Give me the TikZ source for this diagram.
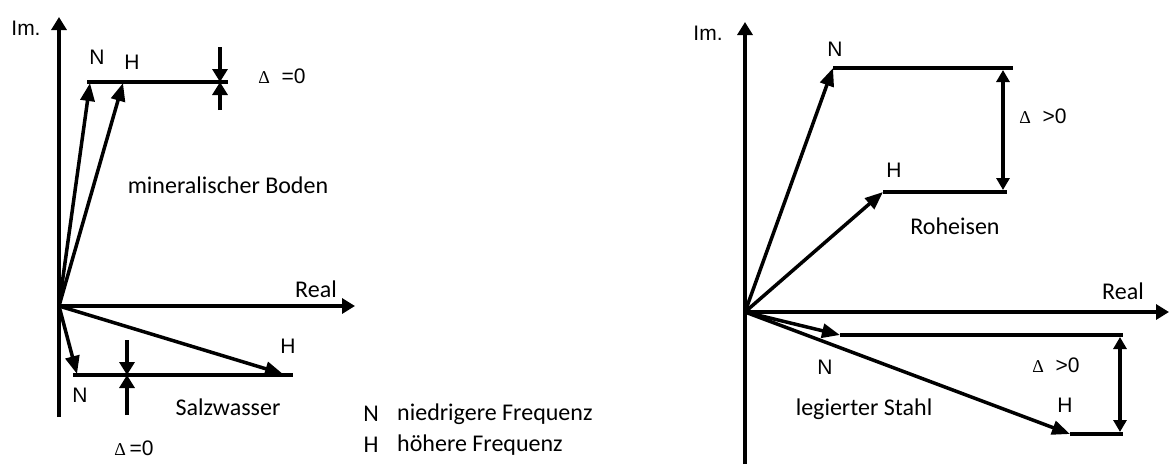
\documentclass[tikz,border=0pt]{standalone}
\usepackage{fontspec}
\setmainfont{Liberation Sans}
\newfontfamily\notefont{Carlito}
\newfontfamily\deltafont{Liberation Serif}
\usetikzlibrary{arrows.meta}

\newcommand\deltasym{{\deltafont\fontsize{18}{20}\selectfont Δ}}

\begin{document}
\begin{tikzpicture}[
  x=1pt, y=-1pt,
  font=\fontsize{21}{24}\selectfont,
  axis/.style={line width=3.5pt, -{Triangle[length=13pt,width=15pt]}},
  vec/.style={line width=3.5pt, -{Triangle[length=18pt,width=14pt]}},
  gap/.style={line width=3.5pt, -{Triangle[length=13pt,width=15pt]}},
  span/.style={line width=3.5pt, {Triangle[length=12pt,width=13pt]}-{Triangle[length=12pt,width=13pt]}},
  lvl/.style={line width=4pt},
  lbl/.style={inner sep=0pt},
  axlbl/.style={inner sep=0pt, font=\fontsize{21}{24}\selectfont},
  note/.style={inner sep=0pt, font=\notefont\fontsize{24}{28}\selectfont}
]
\useasboundingbox (0,0) rectangle (1170,464);

% left: mineralischer Boden / Salzwasser
\coordinate (oL) at (59,306);
\coordinate (imL) at (59,17);
\coordinate (baseL) at (59,417);
\coordinate (reL) at (355,306);
\draw[axis] (baseL) -- (imL);
\draw[axis] (oL) -- (reL);
\node[axlbl] (imLbl) at (26,28) {Im.};
\node[note] (reLbl) at (316,289) {Real};

\coordinate (mN) at (90,83);
\coordinate (mH) at (123,83);
\coordinate (mA) at (87,82);
\coordinate (mB) at (228,82);
\draw[lvl] (mA) -- (mB);
\draw[vec] (oL) -- (mN);
\draw[vec] (oL) -- (mH);
\coordinate (mUp) at (220,47);
\coordinate (mMid) at (220,82);
\coordinate (mDn) at (220,110);
\draw[gap] (mUp) -- (mMid);
\draw[gap] (mDn) -- (mMid);
\node[lbl] (mNLbl) at (97,57) {N};
\node[lbl] (mHLbl) at (132,62) {H};
\node[lbl] (mDelta) at (282,76) {\deltasym\ \ =0};
\node[note] (mTxt) at (228,185) {mineralischer Boden};

\coordinate (sN) at (77,374);
\coordinate (sH) at (283,374);
\coordinate (sA) at (73,375);
\coordinate (sB) at (293,375);
\draw[lvl] (sA) -- (sB);
\draw[vec] (oL) -- (sN);
\draw[vec] (oL) -- (sH);
\coordinate (sUp) at (127,340);
\coordinate (sMid) at (127,375);
\coordinate (sDn) at (127,415);
\draw[gap] (sUp) -- (sMid);
\draw[gap] (sDn) -- (sMid);
\node[lbl] (sNLbl) at (80,395) {N};
\node[lbl] (sHLbl) at (288,346) {H};
\node[lbl] (sDelta) at (134,448) {\deltasym\,=0};
\node[note] (sTxt) at (228,407) {Salzwasser};

% legend
\node[note] (keyN) at (371,414) {N};
\node[note] (keyH) at (371,445) {H};
\node[note, anchor=west] (keyNTxt) at (397,414) {niedrigere Frequenz};
\node[note, anchor=west] (keyHTxt) at (397,445) {höhere Frequenz};

% right: Roheisen / legierter Stahl
\coordinate (oR) at (745,312);
\coordinate (imR) at (745,22);
\coordinate (baseR) at (745,464);
\coordinate (reR) at (1169,312);
\draw[axis] (baseR) -- (imR);
\draw[axis] (oR) -- (reR);
\node[axlbl] (imRLbl) at (708,33) {Im.};
\node[note] (reRLbl) at (1123,291) {Real};

\coordinate (rN) at (833,68);
\coordinate (rNEnd) at (1013,68);
\coordinate (rH) at (883,192);
\coordinate (rHEnd) at (1007,192);
\draw[lvl] (rN) -- (rNEnd);
\draw[lvl] (rH) -- (rHEnd);
\draw[vec] (oR) -- (rN);
\draw[vec] (oR) -- (rH);
\coordinate (rTop) at (1003,70);
\coordinate (rBot) at (1003,190);
\draw[span] (rTop) -- (rBot);
\node[lbl] (rNLbl) at (835,49) {N};
\node[lbl] (rHLbl) at (894,170) {H};
\node[lbl] (rDelta) at (1043,116) {\deltasym\ \ >0};
\node[note] (rTxt) at (955,226) {Roheisen};

\coordinate (lN) at (840,335);
\coordinate (lNEnd) at (1123,335);
\coordinate (lH) at (1070,434);
\coordinate (lHEnd) at (1123,434);
\draw[lvl] (lN) -- (lNEnd);
\draw[lvl] (lH) -- (lHEnd);
\draw[vec] (oR) -- (lN);
\draw[vec] (oR) -- (lH);
\coordinate (lTop) at (1120,337);
\coordinate (lBot) at (1120,432);
\draw[span] (lTop) -- (lBot);
\node[lbl] (lNLbl) at (825,367) {N};
\node[lbl] (lHLbl) at (1065,405) {H};
\node[lbl] (lDelta) at (1056,365) {\deltasym\ \ >0};
\node[note] (lTxt) at (864,409) {legierter Stahl};
\end{tikzpicture}
\end{document}
